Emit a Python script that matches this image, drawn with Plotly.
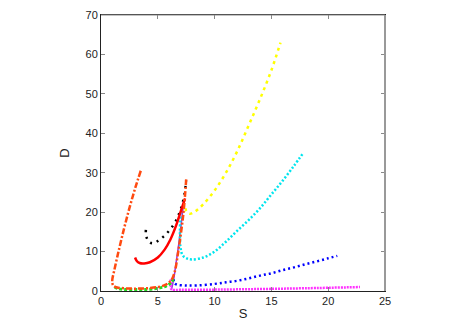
import plotly.graph_objects as go

# ── curve data (S, D) ──────────────────────────────────────────
orange_s = [3.5, 3.0, 2.5, 2.0, 1.5, 1.15, 1.0, 1.0, 1.1, 1.4, 2.0, 3.0, 4.0, 5.0, 5.7, 6.2, 6.5, 6.8, 7.1, 7.3, 7.5]
orange_d = [30.5, 26.0, 21.0, 15.5, 9.5, 5.0, 3.0, 2.0, 1.3, 0.9, 0.7, 0.6, 0.7, 1.0, 1.6, 2.8, 5.0, 10.0, 16.0, 21.0, 28.3]

green_s = [1.2, 1.5, 2.0, 3.0, 4.0, 5.0, 5.7, 6.2, 6.4]
green_d = [1.0, 0.6, 0.4, 0.35, 0.4, 0.7, 1.2, 2.2, 3.5]

red_s = [3.0, 3.15, 3.4, 3.8, 4.3, 5.0, 5.6, 6.1, 6.6, 7.0, 7.4]
red_d = [8.5, 7.6, 7.1, 7.0, 7.3, 8.5, 10.5, 13.0, 16.5, 20.0, 23.5]

black_s = [3.95, 3.95, 4.05, 4.3, 4.6, 5.0, 5.5, 6.0, 6.5, 6.9, 7.2, 7.4, 7.5]
black_d = [15.5, 14.5, 13.3, 12.3, 12.1, 12.7, 13.8, 15.3, 17.3, 19.8, 22.5, 25.5, 28.0]

yellow_s = [7.45, 7.5, 7.8, 8.3, 9.0, 10.0, 11.0, 12.0, 13.0, 14.0, 15.0, 15.8]
yellow_d = [21.0, 20.3, 19.6, 20.2, 22.0, 25.5, 30.0, 35.5, 42.0, 48.7, 56.0, 63.0]

cyan_s = [7.0, 6.95, 7.0, 7.2, 7.6, 8.0, 9.0, 10.0, 11.0, 12.0, 13.0, 14.0, 15.0, 16.0, 17.0, 17.8]
cyan_d = [20.0, 15.0, 11.0, 9.0, 8.2, 8.0, 8.5, 10.0, 12.5, 15.3, 18.0, 21.0, 24.5, 28.0, 31.8, 35.0]

blue_s = [6.4, 6.45, 6.7, 7.5, 8.5, 10.0, 11.0, 12.0, 13.0, 14.0, 15.0, 16.0, 17.0, 18.0, 19.0, 20.0, 20.8]
blue_d = [3.0, 2.0, 1.6, 1.4, 1.4, 1.8, 2.2, 2.6, 3.2, 3.9, 4.5, 5.3, 6.0, 6.8, 7.5, 8.3, 8.9]

magenta_s = [6.15, 6.15, 6.2, 7.0, 10.0, 14.0, 18.0, 22.8]
magenta_d = [3.0, 1.5, 0.4, 0.3, 0.35, 0.5, 0.7, 1.0]

purple_s = [6.2, 6.4, 6.6, 6.85, 7.1, 7.3]
purple_d = [0.3, 3.0, 7.0, 12.0, 18.0, 23.0]

x_ticks = [0, 5, 10, 15, 20, 25]
y_ticks = [0, 10, 20, 30, 40, 50, 60, 70]

fig = go.Figure()


def add_curve(s, d, color, width, dash):
    fig.add_trace(go.Scatter(
        x=s, y=d, mode="lines",
        line=dict(color=color, width=width, dash=dash, shape="spline"),
        showlegend=False, hoverinfo="skip",
    ))


add_curve(purple_s, purple_d, "#9a30e0", 1.5, "solid")
add_curve(magenta_s, magenta_d, "#ff33ff", 2.5, "2px,1px")
add_curve(blue_s, blue_d, "#0000ff", 2.5, "2px,3px")
add_curve(cyan_s, cyan_d, "#00e5ee", 2.5, "2px,2px")
add_curve(yellow_s, yellow_d, "#ffff00", 2.5, "3px,4px")
add_curve(black_s, black_d, "#000000", 2.5, "2px,5px")
add_curve(green_s, green_d, "#22dd22", 3, "3px,2px")
add_curve(red_s, red_d, "#ff0000", 2.5, "solid")
add_curve(orange_s, orange_d, "#ff4a10", 2.5, "6px,2px,2px,2px")

# page body adds an 8px offset, so the figure is 8px smaller than the window
fig.update_layout(
    width=455, height=316,
    paper_bgcolor="white", plot_bgcolor="white",
    font=dict(family="Liberation Sans, Arial, sans-serif", color="#222222", size=11),
    margin=dict(l=93, r=78, t=6, b=29),
    xaxis=dict(
        range=[0, 25], tickvals=x_ticks, showgrid=False, zeroline=False,
        showline=True, linecolor="#222222", linewidth=1, mirror="ticks",
        ticks="inside", ticklen=4, tickcolor="#888888",
        title=dict(text="S", standoff=2),
    ),
    yaxis=dict(
        range=[0, 70], tickvals=y_ticks, showgrid=False, zeroline=False,
        showline=True, linecolor="#222222", linewidth=1, mirror="ticks",
        ticks="inside", ticklen=4, tickcolor="#888888",
        ticklabeloverflow="allow", automargin=False,
        title=dict(text="D", standoff=12),
    ),
    shapes=[
        dict(type="line", xref="paper", yref="paper", x0=0, x1=1, y0=1, y1=1,
             line=dict(color="#888888", width=1)),
        dict(type="line", xref="paper", yref="paper", x0=1, x1=1, y0=0, y1=1,
             line=dict(color="#999999", width=2)),
    ],
)

fig.write_html("out.html")
